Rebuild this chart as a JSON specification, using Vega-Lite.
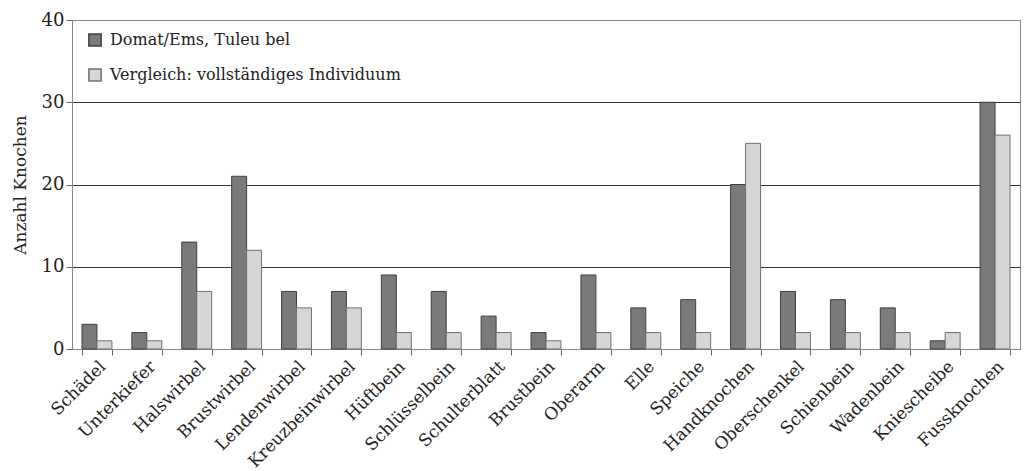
{
  "$schema": "https://vega.github.io/schema/vega-lite/v6.json",
  "autosize": {"type": "none"},
  "width": 948,
  "height": 329,
  "padding": {"left": 72, "top": 20, "right": 8, "bottom": 122},
  "background": "white",
  "config": {
    "font": "DejaVu Serif",
    "view": {"stroke": "#888", "strokeWidth": 1}
  },
  "data": {
    "values": [
      {"k": "Schädel", "s": "Domat/Ems, Tuleu bel", "v": 3},
      {"k": "Schädel", "s": "Vergleich: vollständiges Individuum", "v": 1},
      {"k": "Unterkiefer", "s": "Domat/Ems, Tuleu bel", "v": 2},
      {"k": "Unterkiefer", "s": "Vergleich: vollständiges Individuum", "v": 1},
      {"k": "Halswirbel", "s": "Domat/Ems, Tuleu bel", "v": 13},
      {"k": "Halswirbel", "s": "Vergleich: vollständiges Individuum", "v": 7},
      {"k": "Brustwirbel", "s": "Domat/Ems, Tuleu bel", "v": 21},
      {"k": "Brustwirbel", "s": "Vergleich: vollständiges Individuum", "v": 12},
      {"k": "Lendenwirbel", "s": "Domat/Ems, Tuleu bel", "v": 7},
      {"k": "Lendenwirbel", "s": "Vergleich: vollständiges Individuum", "v": 5},
      {"k": "Kreuzbeinwirbel", "s": "Domat/Ems, Tuleu bel", "v": 7},
      {"k": "Kreuzbeinwirbel", "s": "Vergleich: vollständiges Individuum", "v": 5},
      {"k": "Hüftbein", "s": "Domat/Ems, Tuleu bel", "v": 9},
      {"k": "Hüftbein", "s": "Vergleich: vollständiges Individuum", "v": 2},
      {"k": "Schlüsselbein", "s": "Domat/Ems, Tuleu bel", "v": 7},
      {"k": "Schlüsselbein", "s": "Vergleich: vollständiges Individuum", "v": 2},
      {"k": "Schulterblatt", "s": "Domat/Ems, Tuleu bel", "v": 4},
      {"k": "Schulterblatt", "s": "Vergleich: vollständiges Individuum", "v": 2},
      {"k": "Brustbein", "s": "Domat/Ems, Tuleu bel", "v": 2},
      {"k": "Brustbein", "s": "Vergleich: vollständiges Individuum", "v": 1},
      {"k": "Oberarm", "s": "Domat/Ems, Tuleu bel", "v": 9},
      {"k": "Oberarm", "s": "Vergleich: vollständiges Individuum", "v": 2},
      {"k": "Elle", "s": "Domat/Ems, Tuleu bel", "v": 5},
      {"k": "Elle", "s": "Vergleich: vollständiges Individuum", "v": 2},
      {"k": "Speiche", "s": "Domat/Ems, Tuleu bel", "v": 6},
      {"k": "Speiche", "s": "Vergleich: vollständiges Individuum", "v": 2},
      {"k": "Handknochen", "s": "Domat/Ems, Tuleu bel", "v": 20},
      {"k": "Handknochen", "s": "Vergleich: vollständiges Individuum", "v": 25},
      {"k": "Oberschenkel", "s": "Domat/Ems, Tuleu bel", "v": 7},
      {"k": "Oberschenkel", "s": "Vergleich: vollständiges Individuum", "v": 2},
      {"k": "Schienbein", "s": "Domat/Ems, Tuleu bel", "v": 6},
      {"k": "Schienbein", "s": "Vergleich: vollständiges Individuum", "v": 2},
      {"k": "Wadenbein", "s": "Domat/Ems, Tuleu bel", "v": 5},
      {"k": "Wadenbein", "s": "Vergleich: vollständiges Individuum", "v": 2},
      {"k": "Kniescheibe", "s": "Domat/Ems, Tuleu bel", "v": 1},
      {"k": "Kniescheibe", "s": "Vergleich: vollständiges Individuum", "v": 2},
      {"k": "Fussknochen", "s": "Domat/Ems, Tuleu bel", "v": 30},
      {"k": "Fussknochen", "s": "Vergleich: vollständiges Individuum", "v": 26}
    ]
  },
  "mark": {"type": "bar", "strokeWidth": 1},
  "encoding": {
    "x": {
      "field": "k", "type": "nominal", "sort": null,
      "scale": {"paddingInner": 0.4, "paddingOuter": 0.2},
      "axis": {
        "title": null, "labelAngle": -45, "labelAlign": "right", "labelBaseline": "top",
        "labelFontSize": 17, "labelColor": "#222", "labelPadding": 3,
        "tickBand": "extent", "tickSize": 6, "tickColor": "#666",
        "domainColor": "#888", "grid": false, "labelLimit": 0
      }
    },
    "xOffset": {"field": "s", "type": "nominal", "sort": null},
    "y": {
      "field": "v", "type": "quantitative",
      "scale": {"domain": [0, 40], "nice": false},
      "axis": {
        "title": "Anzahl Knochen", "titleFontSize": 17, "titleFontWeight": "normal",
        "titleColor": "#222", "titlePadding": 12,
        "values": [0, 10, 20, 30, 40], "labelFontSize": 18, "labelColor": "#222",
        "tickSize": 6, "tickColor": "#666", "domainColor": "#888",
        "grid": true, "gridWidth": 1,
        "gridColor": {"condition": {"test": "datum.value == 40", "value": "#888"}, "value": "#333"}
      }
    },
    "fill": {
      "field": "s", "type": "nominal", "sort": null,
      "scale": {"range": ["#7a7a7a", "#d6d6d6"]},
      "legend": {
        "title": null, "orient": "none", "legendX": 15, "legendY": 12,
        "symbolType": "square", "symbolSize": 150, "labelFontSize": 16,
        "labelColor": "#222", "rowPadding": 15, "labelLimit": 0, "labelOffset": 7
      }
    },
    "stroke": {
      "field": "s", "type": "nominal", "sort": null,
      "scale": {"range": ["#3f3f3f", "#707070"]},
      "legend": null
    }
  }
}
